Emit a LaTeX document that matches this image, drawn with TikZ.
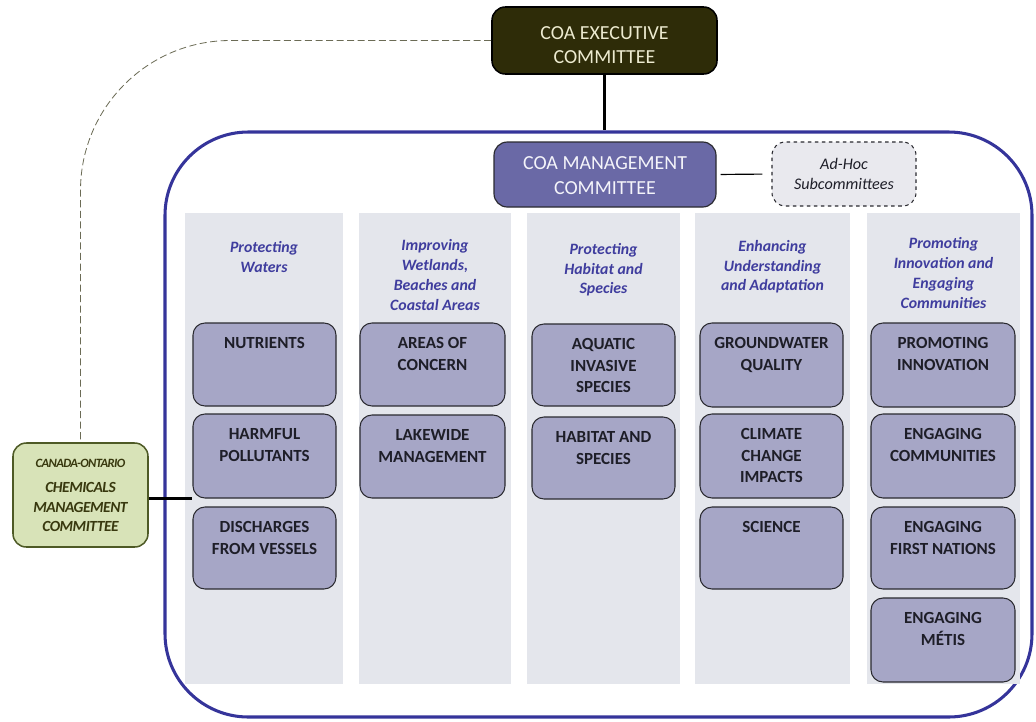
\documentclass[tikz,border=0pt]{standalone}
\usepackage{fontspec}
\setmainfont{Carlito}
\usetikzlibrary{fit,calc}
\definecolor{execfill}{HTML}{2E2C08}
\definecolor{exectext}{HTML}{EDEBD0}
\definecolor{mgmtfill}{HTML}{6A69A6}
\definecolor{mgmttext}{HTML}{F4F4FA}
\definecolor{adhocfill}{HTML}{E9E9EE}
\definecolor{outerblue}{HTML}{35349A}
\definecolor{colgray}{HTML}{E4E6EC}
\definecolor{boxfill}{HTML}{A6A6C6}
\definecolor{boxborder}{HTML}{2A2A30}
\definecolor{boxtext}{HTML}{1E1E28}
\definecolor{headblue}{HTML}{3F3D9E}
\definecolor{greenfill}{HTML}{D8E3B8}
\definecolor{greenborder}{HTML}{4E5A26}
\definecolor{greentext}{HTML}{38380E}
\definecolor{dashcol}{HTML}{6B6B55}
\newcommand\itembox[6]{%
  \node[item, fit={(#2,#3) (#4,#5)}] (#1) {};
  \node[itemtext] (#1t) at ($(#1.north)+(0,15)$) {#6};}
\begin{document}
\begin{tikzpicture}[x=0.03cm,y=-0.03cm,
  outer/.style={draw=outerblue, line width=2.6pt, rounded corners=2.5cm, inner sep=0},
  colbg/.style={fill=colgray, inner sep=0},
  item/.style={draw=boxborder, fill=boxfill, line width=0.9pt, rounded corners=0.36cm, inner sep=0},
  itemtext/.style={font=\fontsize{14.5}{18.3}\selectfont\bfseries, text=boxtext, align=center, inner sep=0, anchor=north},
  head/.style={font=\fontsize{13.5}{16.8}\selectfont\bfseries\itshape, text=headblue, align=center, inner sep=0},
  execbox/.style={draw=black, fill=execfill, line width=1.3pt, rounded corners=0.4cm, inner sep=0},
  mgmtbox/.style={draw=boxborder, fill=mgmtfill, line width=1pt, rounded corners=0.4cm, inner sep=0},
  adhocbox/.style={draw=boxborder, fill=adhocfill, line width=0.9pt, dashed, rounded corners=0.4cm, inner sep=0},
  greenbox/.style={draw=greenborder, fill=greenfill, line width=1.3pt, rounded corners=0.4cm, inner sep=0},
  conn/.style={draw=black, line width=1.8pt},
  thinconn/.style={draw=black, line width=1pt},
  dashconn/.style={draw=dashcol, line width=0.7pt, dash pattern=on 6pt off 3pt}
]
\useasboundingbox (0,0) rectangle (1036,721);

% outer frame
\node[outer, fit={(165,132) (1032,717)}] (outer) {};

% columns
\node[colbg, fit={(185,213) (343,684)}] (col1) {};
\node[colbg, fit={(359,213) (511,684)}] (col2) {};
\node[colbg, fit={(527,213) (680,684)}] (col3) {};
\node[colbg, fit={(695,213) (850,684)}] (col4) {};
\node[colbg, fit={(867,213) (1020,684)}] (col5) {};

% headers
\node[head] (h1) at (264,257) {Protecting\\Waters};
\node[head] (h2) at (435,275) {Improving\\Wetlands,\\Beaches and\\Coastal Areas};
\node[head] (h3) at (603.5,270) {Protecting\\Habitat and\\Species};
\node[head] (h4) at (772.5,267) {Enhancing\\Understanding\\and Adaptation};
\node[head] (h5) at (943.5,273) {Promoting\\Innovation and\\Engaging\\Communities};

% items
\itembox{c1b1}{193}{323}{336}{406}{NUTRIENTS}
\itembox{c1b2}{193}{414}{336}{498}{HARMFUL\\POLLUTANTS}
\itembox{c1b3}{193}{507}{336}{589}{DISCHARGES\\FROM VESSELS}
\itembox{c2b1}{360}{323}{505}{406}{AREAS OF\\CONCERN}
\itembox{c2b2}{360}{415}{505}{498}{LAKEWIDE\\MANAGEMENT}
\itembox{c3b1}{532}{324}{675}{406}{AQUATIC\\INVASIVE\\SPECIES}
\itembox{c3b2}{532}{417}{675}{499}{HABITAT AND\\SPECIES}
\itembox{c4b1}{700}{323}{843}{407}{GROUNDWATER\\QUALITY}
\itembox{c4b2}{700}{414}{843}{498}{CLIMATE\\CHANGE\\IMPACTS}
\itembox{c4b3}{700}{507}{843}{589}{SCIENCE}
\itembox{c5b1}{871}{323}{1015}{407}{PROMOTING\\INNOVATION}
\itembox{c5b2}{871}{414}{1015}{498}{ENGAGING\\COMMUNITIES}
\itembox{c5b3}{871}{507}{1015}{589}{ENGAGING\\FIRST NATIONS}
\itembox{c5b4}{871}{598}{1015}{682}{ENGAGING\\MÉTIS}

% executive
\node[execbox, fit={(492,7) (717,74)}] (exec) {};
\node[font=\fontsize{17}{21}\selectfont, text=exectext, align=center, inner sep=0] (exect) at (604.5,45) {COA EXECUTIVE\\COMMITTEE};

% management
\node[mgmtbox, fit={(494,142) (716,207)}] (mgmt) {};
\node[font=\fontsize{17}{21}\selectfont, text=mgmttext, align=center, inner sep=0] (mgmtt) at (605,175.5) {COA MANAGEMENT\\COMMITTEE};

% ad-hoc
\node[adhocbox, fit={(772,142) (916,206)}] (adhoc) {};
\node[font=\fontsize{13.8}{17}\selectfont\itshape, text=boxtext, align=center, inner sep=0] (adhoct) at (844,173.5) {Ad-Hoc\\Subcommittees};

% green committee
\node[greenbox, fit={(13,443) (148,547)}] (green) {};
\node[font=\fontsize{10.8}{12}\selectfont\bfseries\itshape\addfontfeature{LetterSpace=-5}, text=greentext, inner sep=0] (greent1) at (80.5,463) {CANADA-ONTARIO};
\node[font=\fontsize{13.2}{16.6}\selectfont\bfseries\itshape\addfontfeature{LetterSpace=-3}, text=greentext, align=center, inner sep=0] (greent2) at (80.5,507) {CHEMICALS\\MANAGEMENT\\COMMITTEE};

% connectors
\draw[conn] (exec.south) -- (exec.south |- outer.north);
\draw[thinconn, shorten <=0.27cm, shorten >=0.12cm] (adhoc.west) -- (mgmt.east);
\draw[dashconn, rounded corners=4.5cm] (exec.west) -| (green.north);
\draw[conn] (c1b2.south west -| green.east) -- (c1b2.south west);
\end{tikzpicture}
\end{document}
